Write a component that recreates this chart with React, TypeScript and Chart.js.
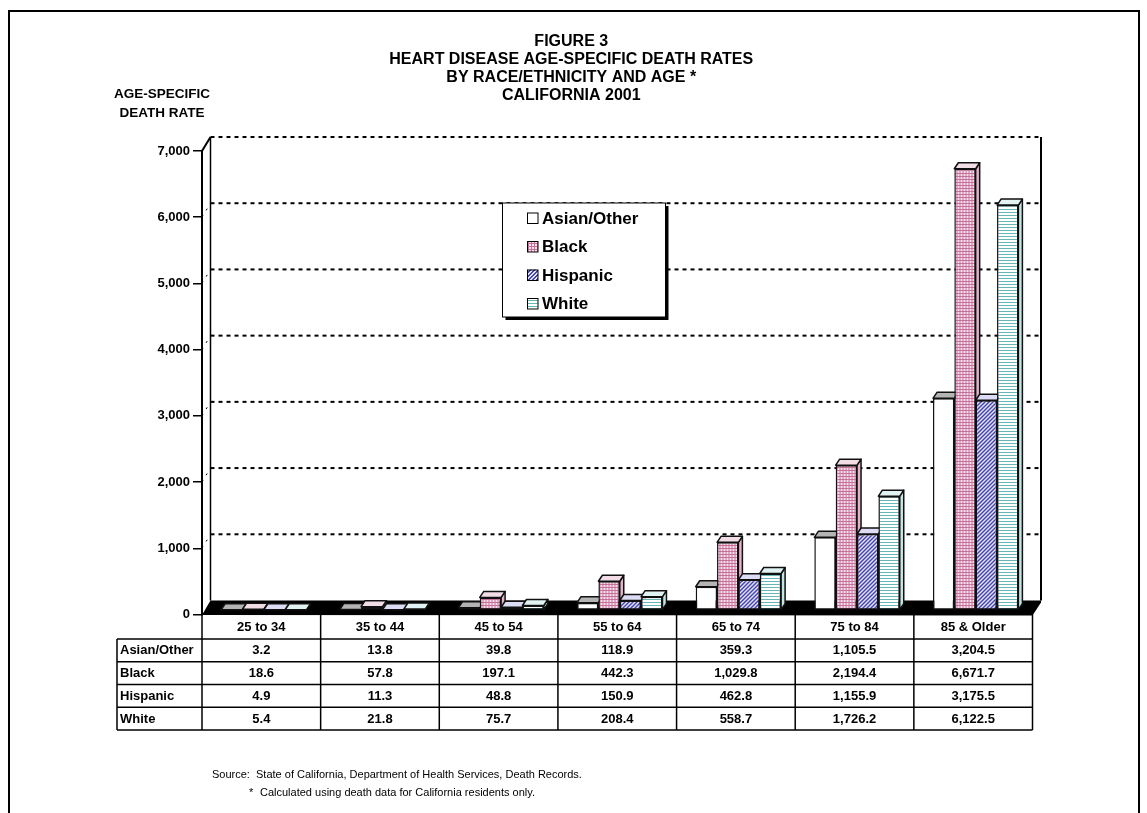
import React, { useEffect, useRef } from 'react';
import { Chart, registerables } from 'chart.js';

Chart.register(...registerables);

const FONT = "'Liberation Sans', Arial, Helvetica, sans-serif";

// ---------- data ----------
const categories = ['25 to 34', '35 to 44', '45 to 54', '55 to 64', '65 to 74', '75 to 84', '85 & Older'];
const seriesNames = ['Asian/Other', 'Black', 'Hispanic', 'White'];
const asianOther = [3.2, 13.8, 39.8, 118.9, 359.3, 1105.5, 3204.5];
const black = [18.6, 57.8, 197.1, 442.3, 1029.8, 2194.4, 6671.7];
const hispanic = [4.9, 11.3, 48.8, 150.9, 462.8, 1155.9, 3175.5];
const white = [5.4, 21.8, 75.7, 208.4, 558.7, 1726.2, 6122.5];
const yTicks = [0, 1000, 2000, 3000, 4000, 5000, 6000, 7000];
const titleLines = ['FIGURE 3', 'HEART DISEASE AGE-SPECIFIC DEATH RATES', 'BY RACE/ETHNICITY AND AGE *', 'CALIFORNIA 2001'];
const yTitleLines = ['AGE-SPECIFIC', 'DEATH RATE'];
const sourceNote = 'Source:  State of California, Department of Health Services, Death Records.';
const footNote = 'Calculated using death data for California residents only.';

// ---------- style / geometry ----------
const WALL_DX = 8.5;
const WALL_DY = -14;
const SHIFT_X = 2.5;
const SHIFT_Y = -4;
const BAR_DX = 4;
const BAR_DY = -6;
const TOP_COLORS = ['#b4b4b4', '#f2dde7', '#dcdcf4', '#e2f3f3'];
const SIDE_COLORS = ['#ffffff', '#e6b2ca', '#a4a4dc', '#c4e6e6'];

function makePattern(w: number, h: number, draw: (g: CanvasRenderingContext2D) => void) {
  const c = document.createElement('canvas');
  c.width = w;
  c.height = h;
  const g = c.getContext('2d') as CanvasRenderingContext2D;
  draw(g);
  return g.createPattern(c, 'repeat') as CanvasPattern;
}

function buildFills() {
  const whiteFill = '#ffffff';
  const blackFill = makePattern(3, 3, (g) => {
    g.fillStyle = '#f7e0ea';
    g.fillRect(0, 0, 3, 3);
    g.fillStyle = '#c8709c';
    g.fillRect(0, 0, 3, 1);
    g.fillRect(0, 0, 1, 3);
  });
  const hispFill = makePattern(4, 4, (g) => {
    g.fillStyle = '#e4e4f8';
    g.fillRect(0, 0, 4, 4);
    g.fillStyle = '#4444b0';
    for (let i = 0; i < 4; i++) {
      g.fillRect(i, 3 - i, 1, 1);
      g.fillRect((i + 1) % 4, 3 - i, 1, 1);
    }
  });
  const whiteLines = makePattern(4, 3, (g) => {
    g.fillStyle = '#ffffff';
    g.fillRect(0, 0, 4, 3);
    g.fillStyle = '#66b8b8';
    g.fillRect(0, 0, 4, 1);
  });
  return [whiteFill, blackFill, hispFill, whiteLines] as (string | CanvasPattern)[];
}

const fmt = (v: number) => v.toLocaleString('en-US', { minimumFractionDigits: 1, maximumFractionDigits: 1 });

export default function App() {
  const ref = useRef<HTMLCanvasElement>(null);

  useEffect(() => {
    const canvas = ref.current;
    if (!canvas) return;
    const fills = buildFills();
    const seriesValues = [asianOther, black, hispanic, white];

    const scenePlugin = {
      id: 'scene3d',
      beforeDatasetsDraw(chart: any) {
        const { ctx, chartArea: ca, scales } = chart;
        const ys = scales.y;
        const bx0 = ca.left + WALL_DX;
        const bx1 = ca.right + WALL_DX;
        const topBack = ys.getPixelForValue(yTicks[yTicks.length - 1]) + WALL_DY;
        const floorBack = ys.getPixelForValue(0) + WALL_DY;
        ctx.save();
        ctx.strokeStyle = '#000';
        // back-wall dashed gridlines
        ctx.lineWidth = 2;
        ctx.setLineDash([4, 4]);
        for (const v of yTicks) {
          if (v === 0) continue;
          const py = ys.getPixelForValue(v) + WALL_DY;
          ctx.beginPath();
          ctx.moveTo(bx0, py);
          ctx.lineTo(bx1, py);
          ctx.stroke();
        }
        // small diagonals on left wall
        ctx.lineWidth = 1;
        ctx.setLineDash([2, 6]);
        for (const v of yTicks) {
          if (v === 0 || v === yTicks[yTicks.length - 1]) continue;
          const py = ys.getPixelForValue(v);
          ctx.beginPath();
          ctx.moveTo(ca.left, py);
          ctx.lineTo(bx0, py + WALL_DY);
          ctx.stroke();
        }
        ctx.setLineDash([]);
        // top-left diagonal
        ctx.lineWidth = 2;
        ctx.beginPath();
        ctx.moveTo(ca.left, ys.getPixelForValue(yTicks[yTicks.length - 1]));
        ctx.lineTo(bx0, topBack);
        ctx.stroke();
        // back left vertical
        ctx.lineWidth = 1.5;
        ctx.beginPath();
        ctx.moveTo(bx0, topBack);
        ctx.lineTo(bx0, floorBack);
        ctx.stroke();
        // right wall
        ctx.lineWidth = 2;
        ctx.beginPath();
        ctx.moveTo(bx1, topBack);
        ctx.lineTo(bx1, floorBack);
        ctx.stroke();
        // floor slab
        ctx.fillStyle = '#000';
        ctx.beginPath();
        ctx.moveTo(ca.left, ca.bottom + 0.5);
        ctx.lineTo(bx0, floorBack);
        ctx.lineTo(bx1, floorBack);
        ctx.lineTo(bx1, floorBack + 2);
        ctx.lineTo(ca.right, ca.bottom + 1);
        ctx.closePath();
        ctx.fill();
        ctx.restore();

        // 3D sides and tops of bars, drawn before fronts
        ctx.save();
        ctx.translate(SHIFT_X, SHIFT_Y);
        ctx.strokeStyle = '#111';
        ctx.lineWidth = 1.5;
        ctx.lineJoin = 'round';
        const metas = chart.data.datasets.map((_: any, i: number) => chart.getDatasetMeta(i));
        for (let j = 0; j < categories.length; j++) {
          for (let i = 0; i < metas.length; i++) {
            const el = metas[i].data[j];
            if (!el) continue;
            const p = el.getProps(['x', 'y', 'base', 'width'], true);
            const l = p.x - p.width / 2;
            const r = p.x + p.width / 2;
            const t = Math.min(p.y, p.base);
            const b = Math.max(p.y, p.base);
            // side
            ctx.fillStyle = SIDE_COLORS[i];
            ctx.beginPath();
            ctx.moveTo(r, t);
            ctx.lineTo(r + BAR_DX, t + BAR_DY);
            ctx.lineTo(r + BAR_DX, b + BAR_DY);
            ctx.lineTo(r, b);
            ctx.closePath();
            ctx.fill();
            ctx.stroke();
            // top
            ctx.fillStyle = TOP_COLORS[i];
            ctx.beginPath();
            ctx.moveTo(l, t);
            ctx.lineTo(l + BAR_DX, t + BAR_DY);
            ctx.lineTo(r + BAR_DX, t + BAR_DY);
            ctx.lineTo(r, t);
            ctx.closePath();
            ctx.fill();
            ctx.stroke();
          }
        }
        // keep translation active for the dataset fronts
      },
      afterDatasetsDraw(chart: any) {
        chart.ctx.restore();
      },
      afterDraw(chart: any) {
        const { ctx, chartArea: ca, scales } = chart;
        const xs = scales.x;
        ctx.save();
        // outer frame
        ctx.strokeStyle = '#000';
        ctx.lineWidth = 2;
        ctx.strokeRect(9, 11, 1130, 1000);

        // y-axis title
        ctx.fillStyle = '#000';
        ctx.font = `bold 13.5px ${FONT}`;
        ctx.textAlign = 'center';
        ctx.textBaseline = 'middle';
        ctx.fillText(yTitleLines[0], 162, 94);
        ctx.fillText(yTitleLines[1], 162, 113);

        // legend
        const lx = 502.5, ly = 203, lw = 163, lh = 114;
        ctx.fillStyle = '#000';
        ctx.fillRect(lx + 3, ly + 3, lw, lh);
        ctx.fillStyle = '#fff';
        ctx.fillRect(lx, ly, lw, lh);
        ctx.lineWidth = 1;
        ctx.strokeStyle = '#000';
        ctx.strokeRect(lx, ly, lw, lh);
        ctx.font = `bold 17px ${FONT}`;
        ctx.textAlign = 'left';
        chart.data.datasets.forEach((ds: any, i: number) => {
          const cy = 218 + i * 28.5;
          ctx.fillStyle = ds.backgroundColor;
          ctx.fillRect(527, cy - 5.5, 11, 11);
          ctx.lineWidth = 1;
          ctx.strokeStyle = '#000';
          ctx.strokeRect(527.5, cy - 5, 10.5, 10.5);
          ctx.fillStyle = '#000';
          ctx.fillText(ds.label, 542, cy + 1);
        });

        // data table
        const n = categories.length;
        const cw = (ca.right - ca.left) / n;
        const top = ca.bottom;
        const headBottom = top + 24.5;
        const rowH = 22.75;
        const tableBottom = headBottom + rowH * seriesNames.length;
        const tLeft = 117;
        ctx.strokeStyle = '#000';
        ctx.lineWidth = 1.5;
        ctx.beginPath();
        for (let k = 0; k <= n; k++) {
          const xx = ca.left + k * cw;
          ctx.moveTo(xx, top);
          ctx.lineTo(xx, tableBottom);
        }
        ctx.moveTo(tLeft, headBottom);
        ctx.lineTo(tLeft, tableBottom);
        for (let r = 0; r <= seriesNames.length; r++) {
          const yy = headBottom + r * rowH;
          ctx.moveTo(tLeft, yy);
          ctx.lineTo(ca.right, yy);
        }
        ctx.stroke();
        ctx.fillStyle = '#000';
        ctx.font = `bold 13px ${FONT}`;
        ctx.textAlign = 'center';
        ctx.textBaseline = 'middle';
        categories.forEach((c, j) => {
          ctx.fillText(c, xs.getPixelForValue(j), top + 13);
        });
        seriesNames.forEach((s, i) => {
          const cy = headBottom + rowH * i + rowH / 2 + 0.5;
          ctx.textAlign = 'left';
          ctx.fillText(s, 120, cy);
          ctx.textAlign = 'center';
          seriesValues[i].forEach((v, j) => {
            ctx.fillText(fmt(v), xs.getPixelForValue(j), cy);
          });
        });

        // footnotes
        ctx.font = `11px ${FONT}`;
        ctx.textAlign = 'left';
        ctx.fillText(sourceNote, 212, 775);
        ctx.fillText('*', 249, 793);
        ctx.fillText(footNote, 260, 793);
        ctx.restore();
      },
    };

    const chart = new Chart(canvas, {
      type: 'bar',
      data: {
        labels: categories,
        datasets: seriesNames.map((name, i) => ({
          label: name,
          data: seriesValues[i],
          backgroundColor: fills[i] as any,
          borderColor: '#111',
          borderWidth: 1.5,
          borderSkipped: false,
          categoryPercentage: 0.72,
          barPercentage: 1.0,
          clip: false as any,
        })),
      },
      options: {
        responsive: false,
        animation: false,
        devicePixelRatio: 1,
        layout: { padding: { left: 110, right: 114.5, top: 0, bottom: 198.5 } },
        plugins: {
          legend: { display: false },
          tooltip: { enabled: false },
          title: {
            display: true,
            text: titleLines,
            color: '#000',
            font: { family: FONT, size: 16, weight: 'bold', lineHeight: '18px' as any },
            padding: { top: 33, bottom: 46 },
          },
        },
        scales: {
          x: { type: 'category', display: false, offset: true },
          y: {
            type: 'linear',
            min: 0,
            max: 7000,
            afterBuildTicks: (scale: any) => {
              scale.ticks = yTicks.map((v) => ({ value: v }));
            },
            afterFit: (scale: any) => {
              scale.width = 92;
            },
            ticks: {
              color: '#000',
              padding: 3,
              font: { family: FONT, size: 13, weight: 'bold' },
              callback: (v: any) => Number(v).toLocaleString('en-US'),
            },
            grid: { drawOnChartArea: false, drawTicks: true, tickLength: 9, color: '#000', lineWidth: 1.5 },
            border: { display: true, color: '#000', width: 2 },
          },
        },
      },
      plugins: [scenePlugin],
    });

    return () => chart.destroy();
  }, []);

  return (
    <canvas
      ref={ref}
      width={1147}
      height={813}
      style={{ position: 'absolute', left: 0, top: 0, width: 1147, height: 813, display: 'block' }}
    />
  );
}
